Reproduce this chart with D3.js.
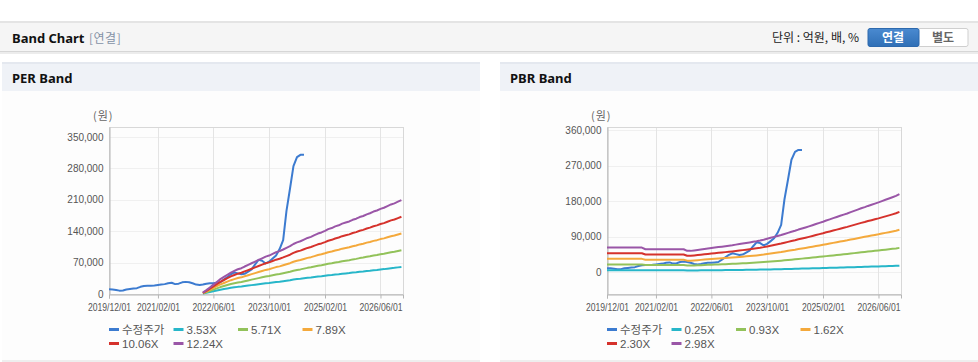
<!DOCTYPE html>
<html>
<head>
<meta charset="utf-8">
<script src="https://cdn.jsdelivr.net/npm/d3@7"></script>
<style>
body { margin: 0; background: #fff; }
svg { display: block; font-family: "Liberation Sans", "Noto Sans CJK KR", sans-serif; }
</style>
</head>
<body>
<div id="chart"></div>
<script>
// monthly data, first month 2019/12
var startMonth = new Date(2019, 11, 1);

// 수정주가 (원), 2019/12 ~ 2024/08
var price = [10500, 10000, 9000, 7500, 8000, 10000, 11000, 12000, 13000, 16000,
  18000, 18500, 18500, 19000, 20000, 21000, 22000, 24000, 25000, 22000,
  23000, 26000, 27000, 26000, 24000, 21000, 20000, 21000, 23000, 24000,
  24000, 25000, 26000, 32000, 38000, 44000, 48000, 46000, 44000, 45000,
  50000, 55000, 66000, 76000, 74000, 68000, 72000, 79000, 86000, 100000,
  120000, 185000, 235000, 285000, 305000, 310000, 310000];

// EPS (천원), 2022/03 ~ 2026/12
var epsStart = 27;
var eps = [0.25, 0.7, 1.2, 1.7, 2.2, 2.7, 3.1, 3.5, 3.9, 4.2,
  4.5, 4.7, 5.0, 5.3, 5.6, 5.9, 6.2, 6.5, 6.8, 7.0,
  7.3, 7.6, 7.8, 8.1, 8.4, 8.7, 9.1, 9.4, 9.6, 9.9,
  10.2, 10.4, 10.7, 11.0, 11.2, 11.5, 11.8, 12.0, 12.3, 12.5,
  12.8, 13.0, 13.2, 13.5, 13.7, 14.0, 14.2, 14.5, 14.7, 15.0,
  15.2, 15.5, 15.7, 16.0, 16.3, 16.5, 16.8, 17.1];

// BPS (천원), 2019/12 ~ 2026/12
var bps = [21.0, 21.0, 21.0, 21.0, 21.0, 21.0, 21.0, 21.0, 21.0, 21.0,
  21.0, 19.6, 19.6, 19.6, 19.6, 19.6, 19.6, 19.6, 19.6, 19.6,
  19.6, 19.6, 19.6, 18.2, 18.2, 18.6, 19.0, 19.4, 19.8, 20.2,
  20.6, 21.0, 21.4, 21.8, 22.2, 22.6, 23.0, 23.5, 24.0, 24.4,
  24.9, 25.4, 25.9, 26.4, 27.0, 27.7, 28.5, 29.3, 30.1, 30.9,
  31.7, 32.6, 33.5, 34.4, 35.3, 36.3, 37.2, 38.1, 39.0, 40.0,
  41.0, 42.0, 43.0, 44.0, 45.0, 46.0, 47.0, 48.0, 49.0, 50.0,
  51.1, 52.2, 53.3, 54.4, 55.4, 56.4, 57.4, 58.4, 59.4, 60.5,
  61.6, 62.7, 63.8, 65.0, 66.5];

var perMult = [3.53, 5.71, 7.89, 10.06, 12.24];
var pbrMult = [0.25, 0.93, 1.62, 2.30, 2.98];

var perTicks = [0, 70000, 140000, 210000, 280000, 350000];
var pbrTicks = [0, 90000, 180000, 270000, 360000];
var xTicks = ["2019/12/01", "2021/02/01", "2022/06/01", "2023/10/01", "2025/02/01", "2026/06/01"];

var priceName = "수정주가";
var priceColor = "#3c7bd0";
var bandColors = ["#27b6c9", "#92c25a", "#f4a93c", "#d5322c", "#9a56a7"];

var W = 978, H = 362;
var svg = d3.select("#chart").append("svg").attr("width", W).attr("height", H);

// top header bar
svg.append("rect").attr("x", 0).attr("y", 21).attr("width", W).attr("height", 31).attr("fill", "#f5f5f5");
svg.append("rect").attr("x", 0).attr("y", 21).attr("width", W).attr("height", 2).attr("fill", "#e4e4e4");
svg.append("rect").attr("x", 0).attr("y", 51).attr("width", W).attr("height", 1).attr("fill", "#d6d6d6");
svg.append("rect").attr("x", 0).attr("y", 52).attr("width", W).attr("height", 2).attr("fill", "#ececec");

svg.append("text").attr("x", 12).attr("y", 43).attr("font-size", 13).attr("font-weight", "bold")
  .attr("font-family", "'Noto Sans', 'Noto Sans CJK KR', sans-serif").attr("fill", "#111").text("Band Chart");
svg.append("text").attr("x", 89).attr("y", 43).attr("font-size", 12).attr("letter-spacing", 0.5)
  .attr("font-family", "'Noto Sans CJK KR', sans-serif").attr("fill", "#8492a6").text("[연결]");

svg.append("text").attr("x", 859).attr("y", 42).attr("text-anchor", "end").attr("font-size", 12)
  .attr("font-family", "'Noto Sans CJK KR', sans-serif").attr("fill", "#222").text("단위 : 억원, 배, %");

var grad = svg.append("defs").append("linearGradient").attr("id", "btn").attr("x1", 0).attr("y1", 0).attr("x2", 0).attr("y2", 1);
grad.append("stop").attr("offset", "0%").attr("stop-color", "#4a8ad0");
grad.append("stop").attr("offset", "100%").attr("stop-color", "#2f6fb6");

svg.append("rect").attr("x", 918).attr("y", 28.5).attr("width", 50).attr("height", 18).attr("rx", 2)
  .attr("fill", "#fff").attr("stroke", "#cfcfcf");
svg.append("rect").attr("x", 868).attr("y", 28.5).attr("width", 51).attr("height", 18).attr("rx", 2)
  .attr("fill", "url(#btn)").attr("stroke", "#2d69ad");
svg.append("text").attr("x", 893).attr("y", 42).attr("text-anchor", "middle").attr("font-size", 12).attr("font-weight", "bold")
  .attr("font-family", "'Noto Sans CJK KR', sans-serif").attr("fill", "#fff").text("연결");
svg.append("text").attr("x", 943).attr("y", 42).attr("text-anchor", "middle").attr("font-size", 12).attr("font-weight", "bold")
  .attr("font-family", "'Noto Sans CJK KR', sans-serif").attr("fill", "#666").text("별도");

function monthDate(i) { return d3.timeMonth.offset(startMonth, i); }
var parseTick = d3.timeParse("%Y/%m/%d");

function drawPanel(px, title, yDomain, yTicks, mult, base, baseStart) {
  var g = svg.append("g");
  g.append("rect").attr("x", px).attr("y", 91).attr("width", 478).attr("height", 269).attr("fill", "#fdfdfd");
  g.append("rect").attr("x", px).attr("y", 360).attr("width", 478).attr("height", 2).attr("fill", "#eeeeee");
  g.append("rect").attr("x", px).attr("y", 62).attr("width", 478).attr("height", 29).attr("fill", "#eff2f7");
  g.append("rect").attr("x", px).attr("y", 62).attr("width", 478).attr("height", 2).attr("fill", "#e4e8ef");
  g.append("text").attr("x", px + 10).attr("y", 83).attr("font-size", 13).attr("font-weight", "bold")
    .attr("font-family", "'Noto Sans', 'Noto Sans CJK KR', sans-serif").attr("fill", "#111").text(title);

  var left = px + 107, right = px + 401, top = 127, bottom = 294;
  var x = d3.scaleTime().domain([startMonth, new Date(2026, 11, 15)]).range([left, right]);
  var y = d3.scaleLinear().domain(yDomain).range([bottom, top]);

  g.append("text").attr("x", left - 16).attr("y", 120).attr("font-size", 11).attr("letter-spacing", 1)
    .attr("font-family", "'Noto Sans CJK KR', sans-serif").attr("fill", "#666").text("(원)");

  // grid
  g.append("g").selectAll("line").data(yTicks).enter().append("line")
    .attr("x1", left).attr("x2", right).attr("y1", function(d) { return Math.round(y(d)) + 0.5; })
    .attr("y2", function(d) { return Math.round(y(d)) + 0.5; }).attr("stroke", "#f0f0f0");
  g.append("g").selectAll("line").data(xTicks).enter().append("line")
    .attr("x1", function(d) { return Math.round(x(parseTick(d))) + 0.5; })
    .attr("x2", function(d) { return Math.round(x(parseTick(d))) + 0.5; })
    .attr("y1", top).attr("y2", bottom).attr("stroke", "#e4e4e4");

  g.append("rect").attr("x", left + 0.5).attr("y", top + 0.5).attr("width", right - left).attr("height", bottom - top)
    .attr("fill", "none").attr("stroke", "#d8d8d8");

  // axes
  var yAxis = g.append("g").attr("transform", "translate(" + (left + 0.5) + ",0)")
    .call(d3.axisLeft(y).tickValues(yTicks).tickSize(0).tickPadding(6).tickFormat(d3.format(",")));
  yAxis.select(".domain").attr("stroke", "#b5b5b5");
  yAxis.selectAll("text").attr("font-size", 10).attr("fill", "#555").attr("font-family", "'Liberation Sans', sans-serif");

  var xAxis = g.append("g").attr("transform", "translate(0," + (bottom + 0.5) + ")")
    .call(d3.axisBottom(x).tickValues(xTicks.map(parseTick)).tickSize(4).tickPadding(5).tickFormat(d3.timeFormat("%Y/%m/%d")));
  xAxis.select(".domain").attr("stroke", "#b5b5b5");
  xAxis.selectAll(".tick line").attr("stroke", "#b5b5b5");
  xAxis.selectAll("text").attr("font-size", 10).attr("fill", "#555")
    .attr("textLength", 43).attr("lengthAdjust", "spacingAndGlyphs")
    .attr("font-family", "'Liberation Sans', sans-serif");

  var line = d3.line().x(function(d) { return x(d.d); }).y(function(d) { return y(d.v); });
  var plot = g.append("g");

  var pts = price.map(function(v, i) { return { d: monthDate(i), v: v }; });
  plot.append("path").datum(pts).attr("d", line).attr("fill", "none")
    .attr("stroke", priceColor).attr("stroke-width", 2).attr("stroke-linejoin", "round");

  mult.forEach(function(m, k) {
    var band = base.map(function(b, i) { return { d: monthDate(baseStart + i), v: b * m * 1000 }; });
    plot.append("path").datum(band).attr("d", line).attr("fill", "none")
      .attr("stroke", bandColors[k]).attr("stroke-width", 2).attr("stroke-linejoin", "round");
  });

  // legend
  var items = [{ name: priceName, color: priceColor }].concat(mult.map(function(m, k) {
    return { name: m.toFixed(2) + "X", color: bandColors[k] };
  }));
  var lg = g.append("g").selectAll("g").data(items).enter().append("g")
    .attr("transform", function(d, i) { return "translate(" + (left + (i % 4) * 64.5) + "," + (329 + Math.floor(i / 4) * 14) + ")"; });
  lg.append("line").attr("x1", 0).attr("x2", 10).attr("y1", 0.5).attr("y2", 0.5)
    .attr("stroke", function(d) { return d.color; }).attr("stroke-width", 3);
  lg.append("text").attr("x", 13).attr("y", 4.5).attr("font-size", 11.5).attr("fill", "#555")
    .attr("font-family", "'Liberation Sans', 'Noto Sans CJK KR', sans-serif").text(function(d) { return d.name; });
}

drawPanel(2, "PER Band", [0, 372000], perTicks, perMult, eps, epsStart);
drawPanel(500, "PBR Band", [-55000, 368000], pbrTicks, pbrMult, bps, 0);
</script>
</body>
</html>
